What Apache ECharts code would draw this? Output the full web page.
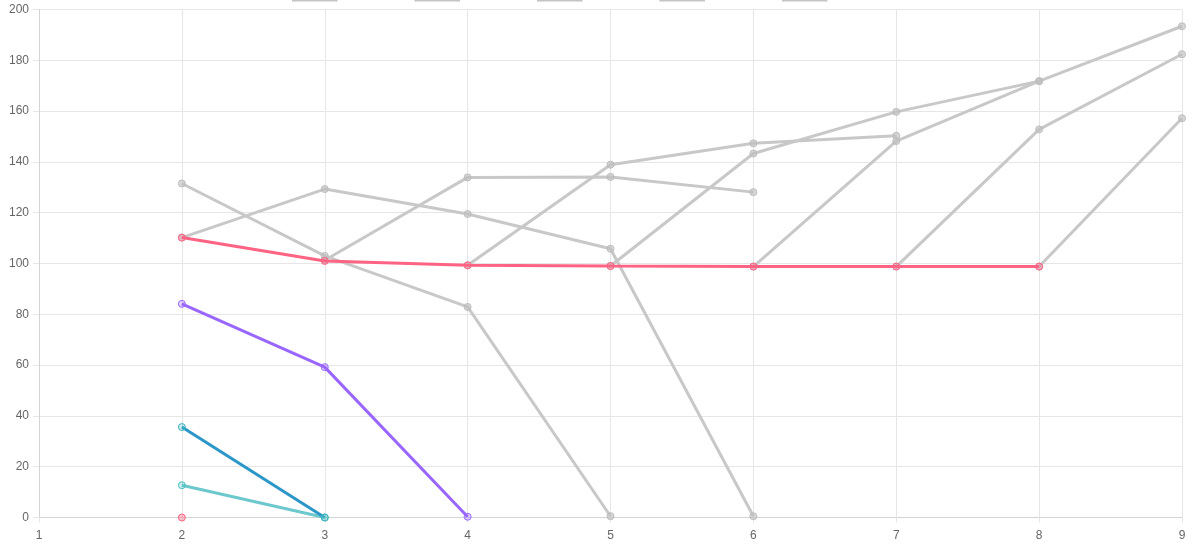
<!DOCTYPE html>
<html>
<head>
<meta charset="utf-8">
<script src="https://cdn.jsdelivr.net/npm/echarts@6/dist/echarts.min.js"></script>
<style>
	html, body { margin: 0; padding: 0; background: #fff; }
	#chart { width: 1200px; height: 553px; }
</style>
</head>
<body>
<div id="chart"></div>
<script>
var categories = ['1', '2', '3', '4', '5', '6', '7', '8', '9'];
var yTicks = { min: 0, max: 200, interval: 20 };

// main coloured series
var pinkLine   = [null, 110.2, 101, 99.3, 99, 98.8, 98.8, 98.8, null];
var pinkDot    = [null, 0, null, null, null, null, null, null, null];
var purpleLine = [null, 84.1, 59.2, 0.3, null, null, null, null, null];
var blueLine   = [null, 35.6, 0, null, null, null, null, null, null];
var tealLine   = [null, 12.7, 0, null, null, null, null, null, null];

// grey projections
var grey1 = [null, 131.5, 103, 82.9, 0.5, null, null, null, null];
var grey2 = [null, 110.2, 129.3, 119.5, 105.8, 0.5, null, null, null];
var grey3 = [null, null, 101.3, 133.9, 134.1, 128.1, null, null, null];
var grey4 = [null, null, null, 99.3, 138.9, 147.3, 150.3, null, null];
var grey5 = [null, null, null, null, 99, 143.3, 159.7, 171.8, 193.4];
var grey6 = [null, null, null, null, null, 98.8, 148.2, 171.8, null];
var grey7 = [null, null, null, null, null, null, 98.8, 152.8, 182.4];
var grey8 = [null, null, null, null, null, null, null, 98.8, 157.2];

var legendNames = ['数据1', '数据2', '数据3', '数据4', '数据5'];

function lineSeries(name, data, color, pointFill, pointBorder, z){
	return {
		name : name,
		type : 'line',
		data : data,
		z : z,
		symbol : 'circle',
		symbolSize : 7,
		showAllSymbol : true,
		connectNulls : false,
		lineStyle : {
			color : color,
			width : 3
		},
		itemStyle : {
			color : pointFill,
			borderColor : pointBorder,
			borderWidth : 1
		},
		emphasis : { disabled : true }
	};
}

var greyLines = [grey1, grey2, grey3, grey4, grey5, grey6, grey7, grey8];
var series = [];
for (var i = 0; i < greyLines.length; i++) {
	series.push(lineSeries('grey' + (i + 1), greyLines[i], '#c8c8c8', 'rgba(190,190,190,0.6)', '#bdbdbd', 2));
}
series.push(lineSeries('teal', tealLine, '#6cc8cc', 'rgba(75,192,192,0.3)', '#4bc0c0', 3));
series.push(lineSeries('blue', blueLine, '#2b96c8', 'rgba(75,192,192,0.3)', '#3fb3be', 3));
series.push(lineSeries('purple', purpleLine, '#9966ff', 'rgba(153,102,255,0.3)', '#9966ff', 3));
series.push(lineSeries('pinkDot', pinkDot, '#ff6384', 'rgba(255,99,132,0.4)', '#ff6384', 3));
series.push(lineSeries('pink', pinkLine, '#ff6384', 'rgba(255,99,132,0.3)', '#ff6384', 4));

// placeholder entries for the cut-off legend boxes at the top
for (var j = 0; j < legendNames.length; j++) {
	series.push({ name : legendNames[j], type : 'line', data : [] });
}

var chart = echarts.init(document.getElementById('chart'));
var option = {
	backgroundColor : '#ffffff',
	animation : false,
	textStyle : { fontFamily : 'Liberation Sans, Arial, sans-serif' },
	legend : {
		data : legendNames,
		left : 287,
		top : -17,
		selectedMode : false,
		icon : 'rect',
		itemWidth : 44,
		itemHeight : 12,
		itemGap : 77,
		formatter : function(){ return ''; },
		itemStyle : {
			color : '#ffffff',
			borderColor : '#c4c4c4',
			borderWidth : 1.5
		}
	},
	grid : {
		left : 39,
		right : 18,
		top : 9.5,
		bottom : 35.5,
		containLabel : false
	},
	xAxis : {
		type : 'category',
		data : categories,
		boundaryGap : false,
		axisLine : {
			show : true,
			lineStyle : { color : '#d4d4d4', width : 1 }
		},
		axisTick : {
			show : true,
			length : 5,
			lineStyle : { color : '#e6e6e6' }
		},
		axisLabel : {
			show : true,
			margin : 12,
			color : '#666',
			fontSize : 12
		},
		splitLine : {
			show : true,
			lineStyle : { color : '#e6e6e6', width : 1 }
		}
	},
	yAxis : {
		type : 'value',
		min : yTicks.min,
		max : yTicks.max,
		interval : yTicks.interval,
		axisLine : {
			show : true,
			lineStyle : { color : '#d4d4d4', width : 1 }
		},
		axisTick : {
			show : true,
			length : 6,
			lineStyle : { color : '#e6e6e6' }
		},
		axisLabel : {
			show : true,
			margin : 10,
			color : '#666',
			fontSize : 12
		},
		splitLine : {
			show : true,
			lineStyle : { color : '#e6e6e6', width : 1 }
		}
	},
	series : series
};
chart.setOption(option);
</script>
</body>
</html>
